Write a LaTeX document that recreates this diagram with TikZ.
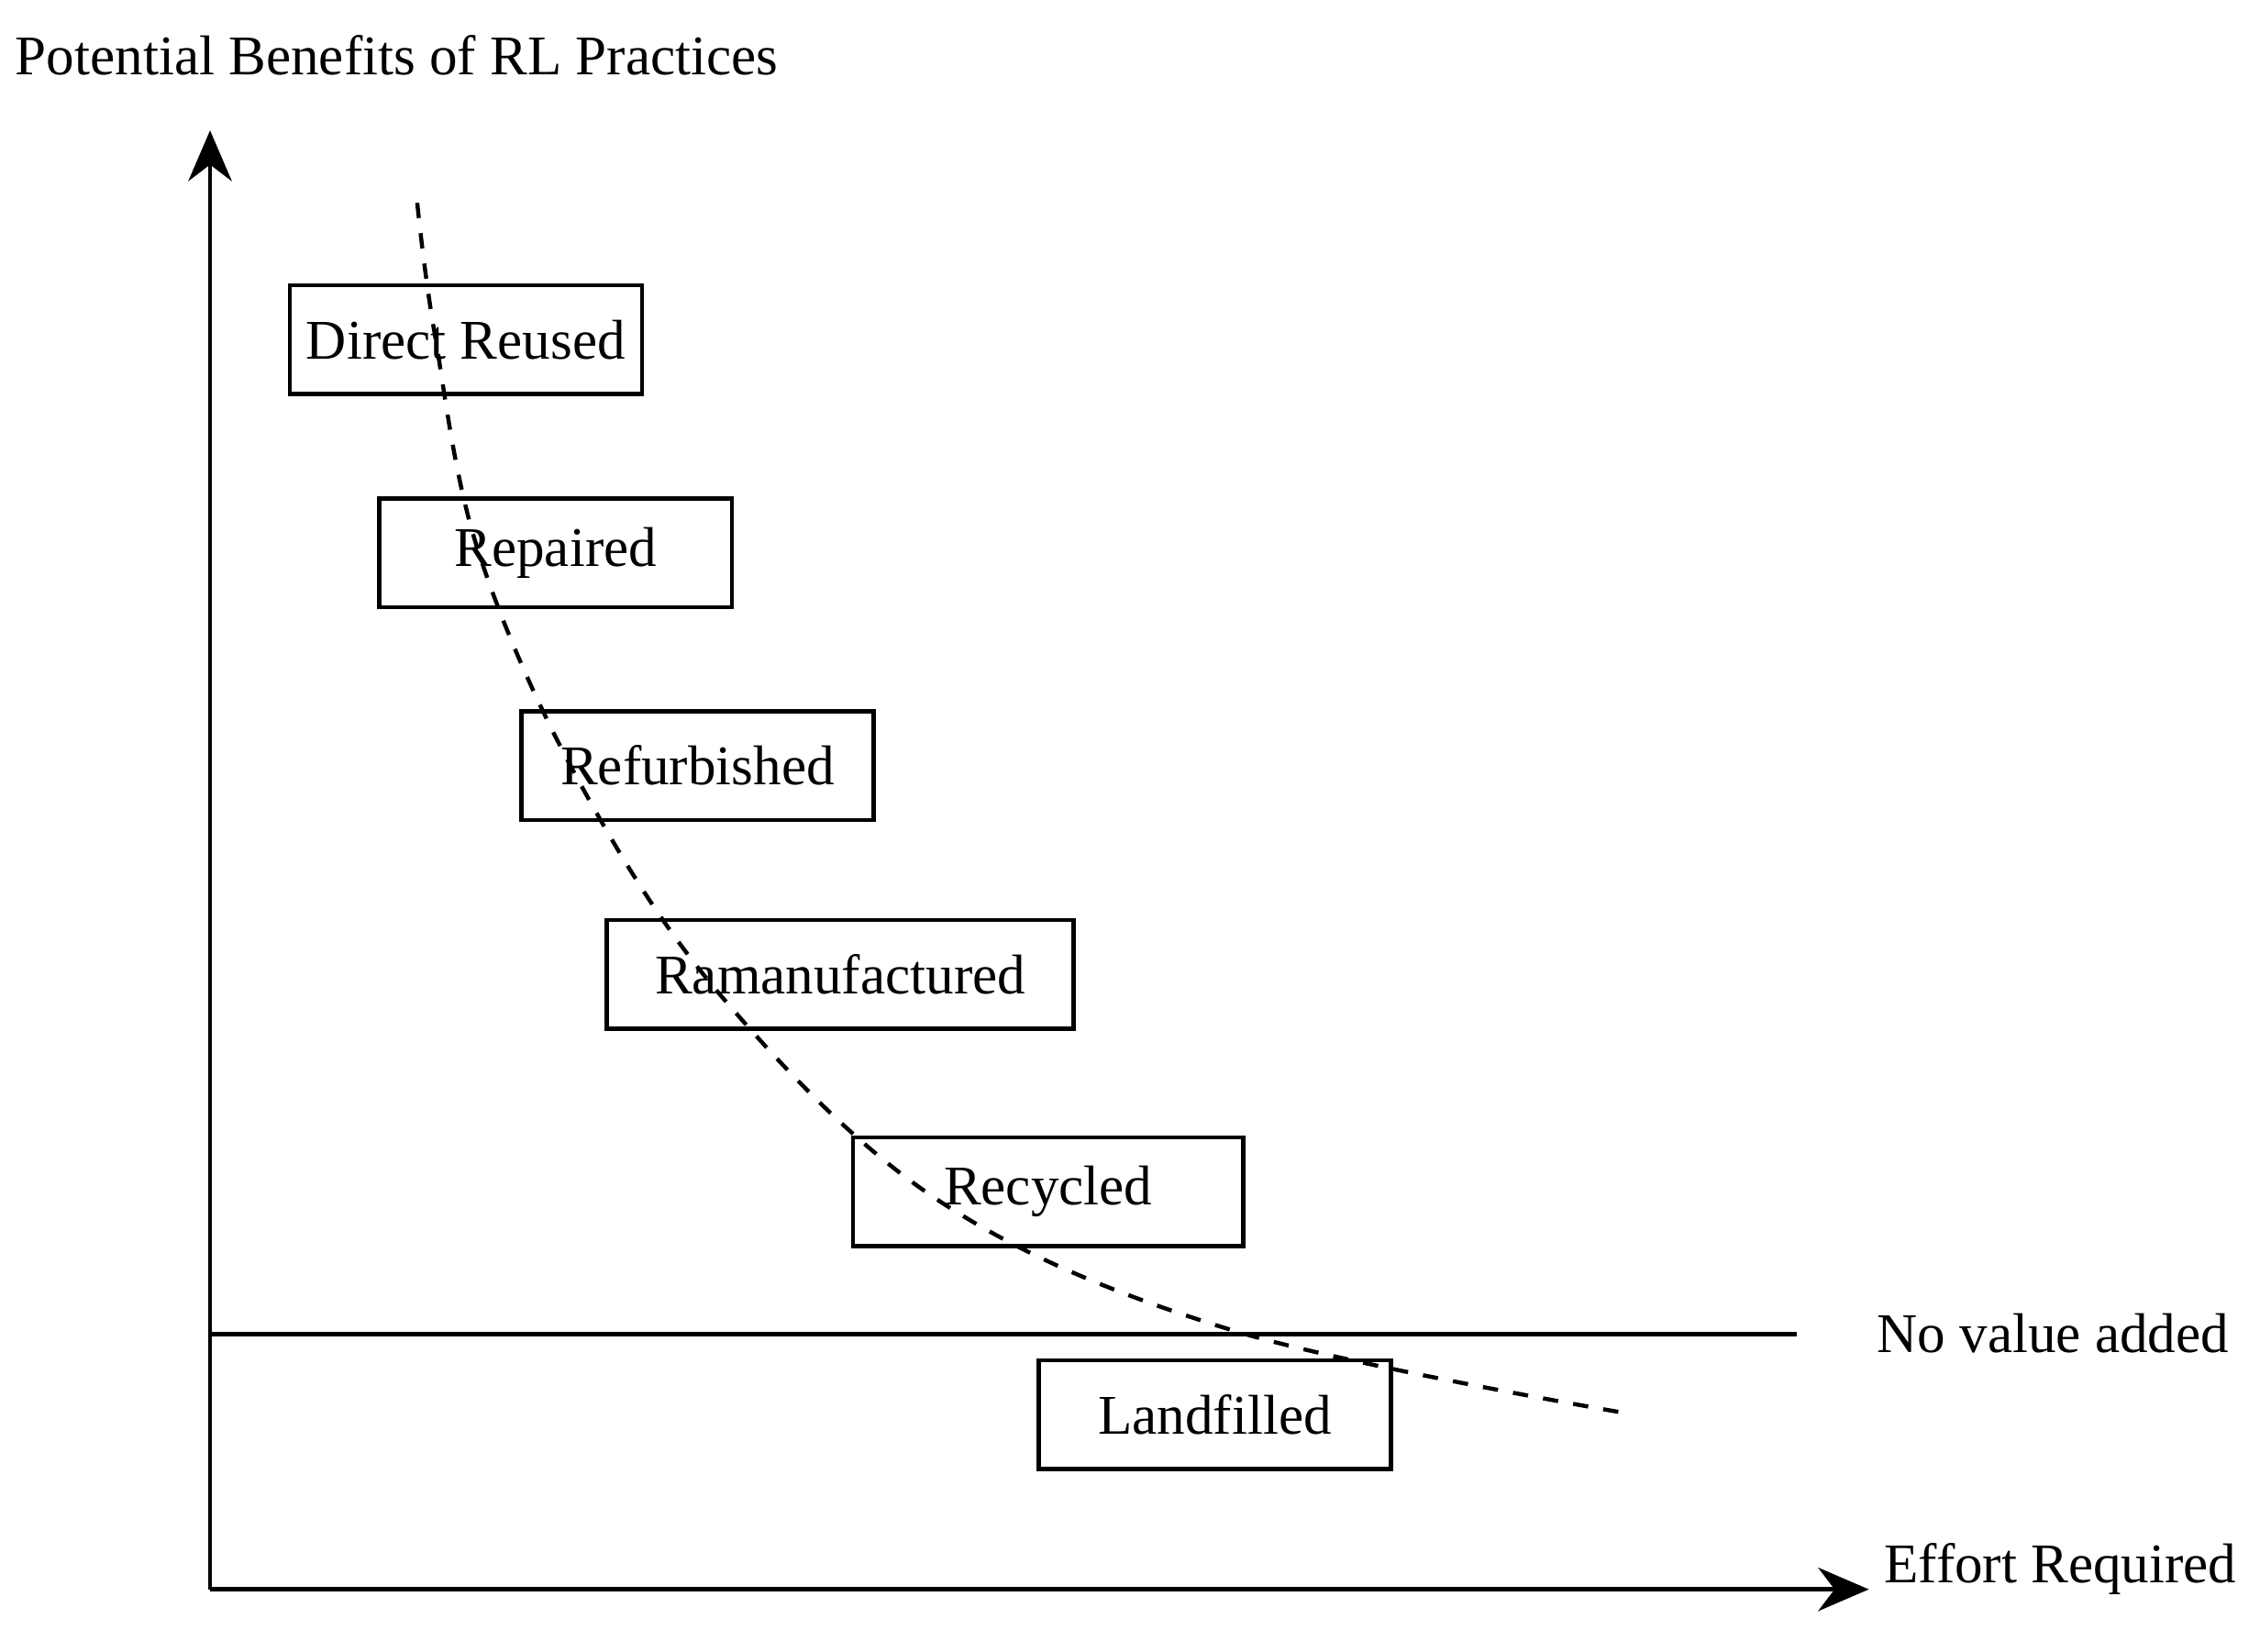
\documentclass[tikz,border=0pt]{standalone}
\usepackage{fontspec}
\setmainfont{Liberation Serif}
\usetikzlibrary{arrows.meta}
\tikzset{
    stage/.style={draw, thick, minimum width=2.43cm, minimum height=0.75cm, inner sep=0pt},
    lbl/.style={inner sep=0pt, anchor=west},
}
\begin{document}
\begin{tikzpicture}[x=0.01cm, y=-0.01cm, every node/.style={font=\fontsize{11}{13}\selectfont}]
        \useasboundingbox (0,0) rectangle (1560,1140);
        \coordinate (o) at (145,1097);
        \coordinate (ytop) at (145,90);
        \coordinate (xend) at (1290,1097);
        \draw[thick, -{Stealth[length=0.35cm, width=0.3cm]}] (o) -- (ytop);
        \draw[thick, -{Stealth[length=0.35cm, width=0.3cm]}] (o) -- (xend);
        \coordinate (nv1) at (145,921);
        \coordinate (nv2) at (1240,921);
        \draw[thick] (nv1) -- (nv2);
        \node[lbl] (ylab) at (10,38) {Potential Benefits of RL Practices};
        \node[lbl] (xlab) at (1300,1083) {Effort Required};
        \node[lbl] (nvlab) at (1295,920) {No value added};
        \draw[thick, dashed] plot[smooth, tension=0.6] coordinates {(288,140) (300,230) (330,380) (400,540) (500,690) (650,830) (850,918) (1120,975)};
        \node[stage] (reuse) at (321.5,234.5) {Direct Reused};
        \node[stage] (repair) at (383.5,381.5) {Repaired};
        \node[stage] (refurb) at (481.5,528.5) {Refurbished};
        \node[stage, minimum width=3.22cm] (reman) at (580,672.5) {Ramanufactured};
        \node[stage, minimum width=2.69cm] (recyc) at (723.5,822.5) {Recycled};
        \node[stage] (landf) at (838.5,976.5) {Landfilled};
    \end{tikzpicture}
\end{document}
